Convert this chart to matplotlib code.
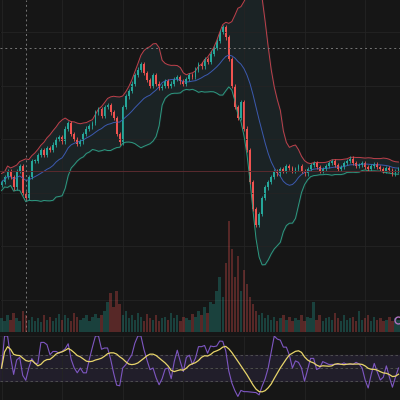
import numpy as np
import pandas as pd
import matplotlib.pyplot as plt

closes = [160, 165, 170, 165, 155, 170, 175, 150, 145, 165, 180,
          180, 185, 190, 185, 192, 190, 195, 200, 202, 198,
          210, 215, 205, 200, 196, 198, 205, 210, 212, 215,
          225, 228, 222, 230, 232, 225, 220, 205, 197, 230,
          240, 245, 252, 260, 265, 270, 262, 255, 250, 260,
          252, 248, 250, 254, 250, 252, 256, 258, 254, 252,
          256, 260, 258, 265, 270, 268, 275, 272, 280, 285,
          292, 300, 305, 295, 275, 250,
          230, 220, 235, 210, 190, 160, 135, 120, 130, 145,
          155, 160, 165, 170, 168, 172, 170, 175, 173, 170,
          172, 175, 170, 168, 172, 176, 178, 174, 170, 172, 175, 178, 180, 176, 172,
          174, 178, 180, 182, 178, 175, 176, 178, 174, 172, 175, 177, 174, 172, 170,
          173, 171, 168, 170, 172]
volumes = [10, 8, 12, 9, 14, 10, 8, 15, 12, 9, 11,
           8, 10, 7, 12, 9, 11, 8, 10, 13, 9,
           12, 10, 8, 14, 11, 9, 10, 12, 8, 11,
           13, 10, 12, 15, 22, 28, 18, 30, 20, 12,
           15, 10, 12, 9, 14, 11, 8, 13, 10, 9,
           12, 8, 10, 11, 9, 14, 10, 12, 8, 11,
           10, 9, 13, 11, 15, 12, 18, 14, 22, 20,
           30, 40, 25, 50, 80, 60,
           40, 55, 30, 45, 35, 25, 20, 15, 12, 14,
           10, 12, 9, 11, 8, 10, 12, 9, 11, 8,
           10, 9, 12, 8, 11, 10, 22, 9, 12, 8, 10, 11, 9, 14, 10,
           8, 12, 9, 10, 11, 8, 15, 9, 10, 12, 8, 11, 9, 10, 8,
           9, 11, 8, 10, 9]

bg = '#161616'
up_c = '#26a69a'
dn_c = '#ef5350'

c = pd.Series(closes, dtype=float)
o = c.shift(1).fillna(c.iloc[0] - 3)
x = np.arange(len(c))
ma = c.rolling(14, min_periods=1).mean()
sd = c.rolling(14, min_periods=2).std().fillna(4)
upper = ma + 2 * sd
lower = ma - 2 * sd

delta = c.diff().fillna(0)
gain = delta.clip(lower=0).rolling(6, min_periods=1).mean()
loss = (-delta.clip(upper=0)).rolling(6, min_periods=1).mean()
rsi = (100 * gain / (gain + loss).replace(0, np.nan)).fillna(50)
rsi_ma = rsi.rolling(10, min_periods=1).mean()

fig = plt.figure(figsize=(4, 4), dpi=100, facecolor=bg)
ax = fig.add_axes([0, 0.17, 1, 0.83], facecolor=bg)
ax2 = fig.add_axes([0, 0, 1, 0.16], facecolor=bg)

for a in (ax, ax2):
    a.grid(color='#242424', lw=0.6)
    for s in a.spines.values():
        s.set_visible(False)
    a.tick_params(left=False, bottom=False, labelleft=False, labelbottom=False)

# volume on a twin axis at the bottom of the price panel
axv = ax.twinx()
axv.set_ylim(0, 240)
axv.axis('off')
vcol = [up_c if cc >= oo else dn_c for cc, oo in zip(c, o)]
axv.bar(x, volumes, width=0.8, color=vcol, alpha=0.3)
axv.plot(len(c) - 1, 9, 'o', ms=5, mfc='none', mec='#b070c0', mew=1)

ax.fill_between(x, lower, upper, color='#1f2c30', alpha=0.6)
ax.plot(x, upper, color='#c0404a', lw=0.7)
ax.plot(x, lower, color='#2d9a80', lw=0.7)
ax.plot(x, ma, color='#3c5ab0', lw=0.7)

for i in x:
    col = up_c if c[i] >= o[i] else dn_c
    top, bot = max(c[i], o[i]), min(c[i], o[i])
    ax.vlines(i, bot - 2, top + 2, color=col, lw=0.6)
    ax.bar(i, max(top - bot, 0.8), bottom=bot, width=0.6, color=col)

ax.axhline(170, color='#5a2a2e', lw=0.7)
ax.axhline(285, color='#777777', lw=0.7, ls=(0, (2, 3)))
ax.axvline(8, color='#777777', lw=0.7, ls=(0, (2, 3)))
ax.set_xlim(-0.5, len(c) - 0.5)
ax.set_ylim(20, 330)

ax2.axhspan(30, 70, color='#2a2438', alpha=0.6)
for lv in (30, 50, 70):
    ax2.axhline(lv, color='#555555', lw=0.6, ls=(0, (3, 3)))
ax2.plot(x, rsi, color='#7e57c2', lw=0.8)
ax2.plot(x, rsi_ma, color='#e8d56a', lw=0.9)
ax2.set_xlim(-0.5, len(c) - 0.5)
ax2.set_ylim(0, 100)

fig.savefig('out.png', facecolor=bg)
